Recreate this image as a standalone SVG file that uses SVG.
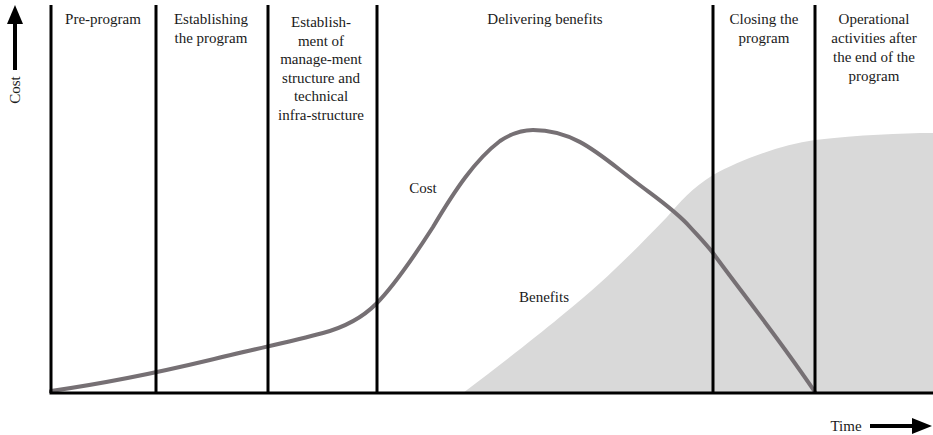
<svg xmlns="http://www.w3.org/2000/svg" width="933" height="435" viewBox="0 0 933 435">
<defs>
<style>
.t{font-family:"Liberation Serif","Times New Roman",serif;font-size:15px;fill:#1a1a1a;text-anchor:middle}
.v{stroke:#000;stroke-width:3;fill:none}
.cost{stroke:#767074;stroke-width:4;fill:none;stroke-linecap:round}
</style>
</defs>
<rect width="933" height="435" fill="#fff"/>
<g id="benefits-area">
<path d="M463,393 C520,350 570,310 600,283 C620,265 645,240 667,217 C680,202 692,188 713,175 C740,160 780,145 815,140 C860,135 900,133 933,133 L933,393 Z" fill="#d9d9d9"/>
</g>
<g id="connectors">
<path class="cost" d="M51,391 C100,384 160,372 210,360 C250,350 290,342 323,333 C345,327 362,318 376,304 C395,285 415,255 433,227 C455,190 475,160 500,141 C512,133 522,130 533,130 C575,130 600,155 633,180 C655,197 675,210 690,227 C700,238 705,243 713,253 C740,290 780,340 815,392"/>
<line class="v" x1="51" y1="5" x2="51" y2="393"/>
<line class="v" x1="156" y1="5" x2="156" y2="393"/>
<line class="v" x1="268" y1="5" x2="268" y2="393"/>
<line class="v" x1="377" y1="5" x2="377" y2="393"/>
<line class="v" x1="713" y1="5" x2="713" y2="393"/>
<line class="v" x1="815" y1="5" x2="815" y2="393"/>
<line class="v" x1="49.5" y1="393" x2="933" y2="393"/>
</g>
<g id="axis-cost">
<line x1="15" y1="70" x2="15" y2="22" stroke="#000" stroke-width="4"/>
<polygon points="15,5 7,24 23,24" fill="#000"/>
<text class="t" transform="translate(20,90) rotate(-90)">Cost</text>
</g>
<g id="axis-time">
<text class="t" x="846" y="431">Time</text>
<line x1="870" y1="426" x2="915" y2="426" stroke="#000" stroke-width="4"/>
<polygon points="932,426 912,418 912,434" fill="#000"/>
</g>
<g id="phase-pre"><text class="t" x="103" y="24">Pre-program</text></g>
<g id="phase-establishing"><text class="t" x="211" y="24">Establishing</text><text class="t" x="211" y="43">the program</text></g>
<g id="phase-structure">
<text class="t" x="321" y="27">Establish-</text>
<text class="t" x="321" y="45.5">ment of</text>
<text class="t" x="321" y="64">manage-ment</text>
<text class="t" x="321" y="82.5">structure and</text>
<text class="t" x="321" y="101">technical</text>
<text class="t" x="321" y="119.5">infra-structure</text>
</g>
<g id="phase-delivering"><text class="t" x="545" y="24">Delivering benefits</text></g>
<g id="phase-closing"><text class="t" x="764" y="24">Closing the</text><text class="t" x="764" y="43">program</text></g>
<g id="phase-operational">
<text class="t" x="874" y="24">Operational</text>
<text class="t" x="874" y="43">activities after</text>
<text class="t" x="874" y="62">the end of the</text>
<text class="t" x="874" y="81">program</text>
</g>
<g id="label-cost"><text class="t" x="423" y="193">Cost</text></g>
<g id="label-benefits"><text class="t" x="544" y="302">Benefits</text></g>
</svg>
